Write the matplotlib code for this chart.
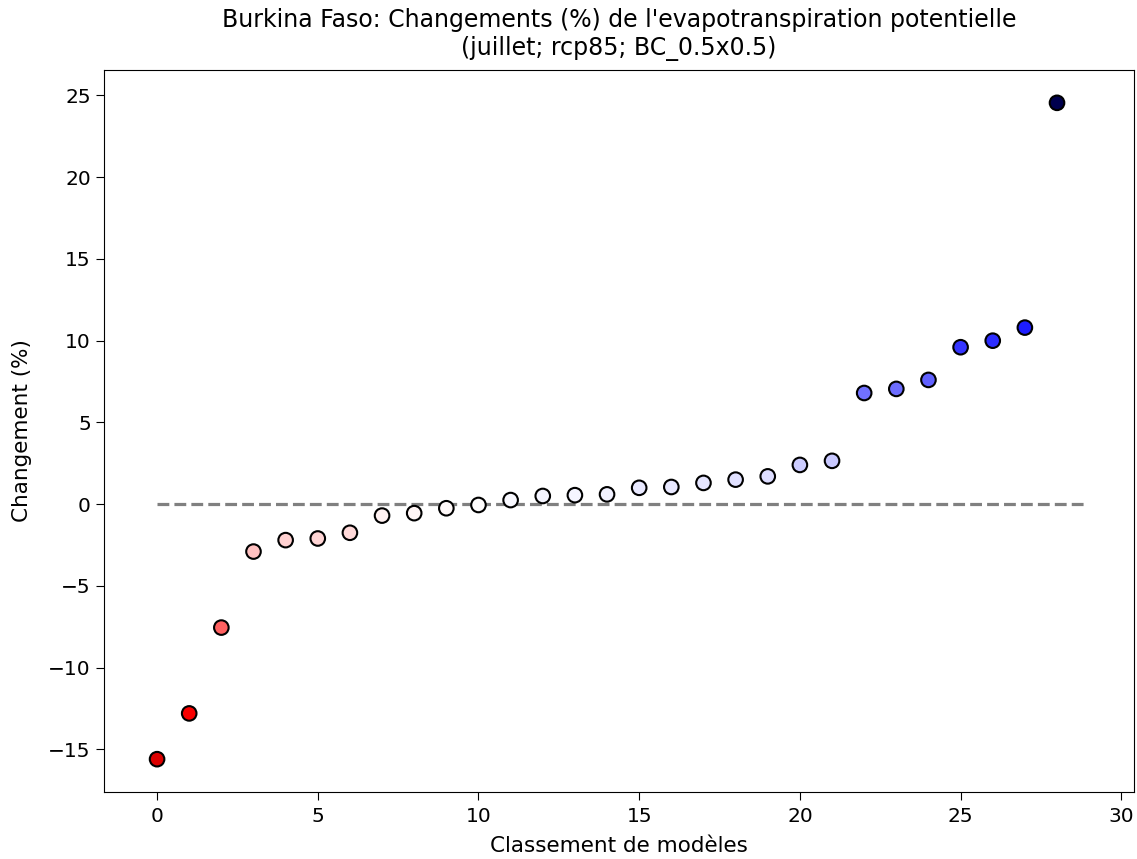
import numpy as np
import matplotlib
matplotlib.use('Agg')
import matplotlib.pyplot as plt
from matplotlib.colors import Normalize

# changement (%) par modele, deja classe
rank = list(range(29))
change = [-15.6, -12.8, -7.55, -2.9, -2.2, -2.1, -1.75, -0.7, -0.55, -0.25,
          -0.05, 0.25, 0.5, 0.55, 0.6, 1.0, 1.05, 1.3, 1.5, 1.7,
          2.4, 2.65, 6.8, 7.05, 7.6, 9.6, 10.0, 10.8, 24.55]

title = "Burkina Faso: Changements (%) de l'evapotranspiration potentielle\n(juillet; rcp85; BC_0.5x0.5)"

vmax = max(abs(v) for v in change)
norm = Normalize(vmin=-vmax, vmax=vmax)

fig = plt.figure(figsize=(11.37, 8.59), dpi=100)
ax = fig.add_axes([0.0915, 0.078, 0.906, 0.8405])

ax.hlines(0, 0, len(change) - 0.1, colors='gray', linestyles='--', linewidth=2.3)
ax.scatter(rank, change, c=change, cmap='seismic_r', norm=norm,
           s=110, edgecolors='black', linewidths=1.5, zorder=3)

ax.set_xlim(-1.65, 30.4)
ax.set_title(title, fontsize=17, pad=11)
ax.set_xlabel('Classement de modèles', fontsize=15.5, labelpad=7)
ax.set_ylabel('Changement (%)', fontsize=15.5, labelpad=12)
ax.tick_params(labelsize=14.5, length=6)
ax.tick_params(axis='x', pad=5)

fig.savefig('out.png', dpi=100)
